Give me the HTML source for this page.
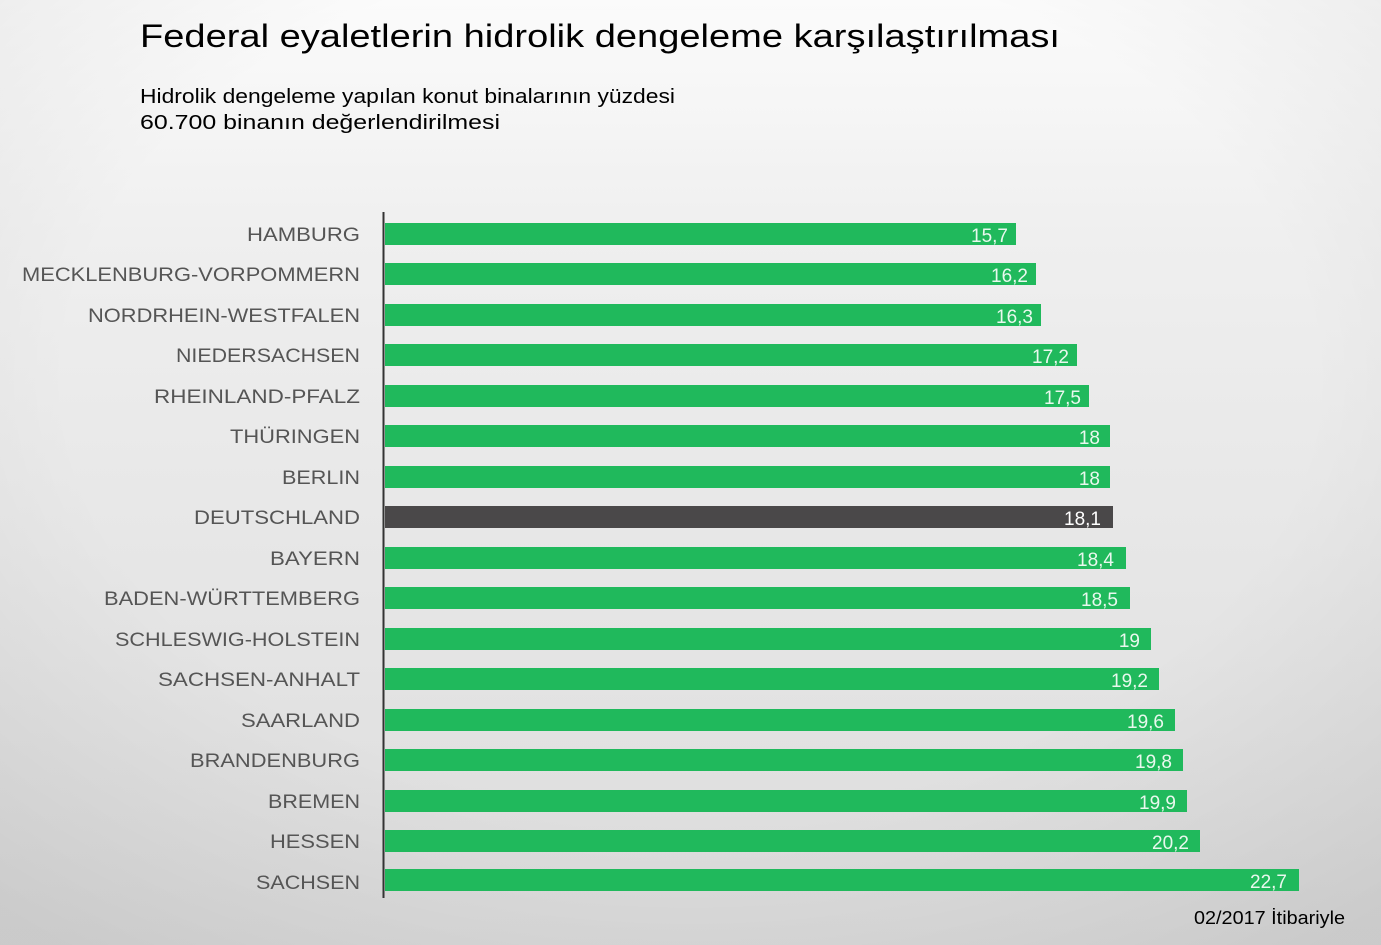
<!DOCTYPE html>
<html><head><meta charset="utf-8"><style>
html,body{margin:0;padding:0;width:1381px;height:945px;overflow:hidden}
</style></head><body>
<svg width="1381" height="945" xmlns="http://www.w3.org/2000/svg" font-family="Liberation Sans, sans-serif">
<defs>
<linearGradient id="bg" x1="0" y1="0" x2="0" y2="1">
<stop offset="0" stop-color="#fbfbfb"/><stop offset="0.25" stop-color="#efefef"/><stop offset="1" stop-color="#dcdcdc"/>
</linearGradient>
<radialGradient id="vg" cx="0.5" cy="0.4" r="0.75">
<stop offset="0.6" stop-color="#000" stop-opacity="0"/><stop offset="1" stop-color="#000" stop-opacity="0.08"/>
</radialGradient>
</defs>
<rect width="1381" height="945" fill="url(#bg)"/>
<rect width="1381" height="945" fill="url(#vg)"/>
<text x="140" y="47" font-size="32" fill="#000" textLength="920" lengthAdjust="spacingAndGlyphs">Federal eyaletlerin hidrolik dengeleme karşılaştırılması</text>
<text x="140" y="103" font-size="20" fill="#000" textLength="535" lengthAdjust="spacingAndGlyphs">Hidrolik dengeleme yapılan konut binalarının yüzdesi</text>
<text x="140" y="129" font-size="20" fill="#000" textLength="360" lengthAdjust="spacingAndGlyphs">60.700 binanın değerlendirilmesi</text>
<line x1="383.5" y1="212" x2="383.5" y2="898" stroke="#333" stroke-width="2"/>
<g font-size="19" fill="#555" text-anchor="end">
<text x="360" y="241" textLength="113" lengthAdjust="spacingAndGlyphs">HAMBURG</text>
<text x="360" y="281" textLength="338" lengthAdjust="spacingAndGlyphs">MECKLENBURG-VORPOMMERN</text>
<text x="360" y="322" textLength="272" lengthAdjust="spacingAndGlyphs">NORDRHEIN-WESTFALEN</text>
<text x="360" y="362" textLength="184" lengthAdjust="spacingAndGlyphs">NIEDERSACHSEN</text>
<text x="360" y="403" textLength="206" lengthAdjust="spacingAndGlyphs">RHEINLAND-PFALZ</text>
<text x="360" y="443" textLength="130" lengthAdjust="spacingAndGlyphs">THÜRINGEN</text>
<text x="360" y="484" textLength="78" lengthAdjust="spacingAndGlyphs">BERLIN</text>
<text x="360" y="524" textLength="166" lengthAdjust="spacingAndGlyphs">DEUTSCHLAND</text>
<text x="360" y="565" textLength="90" lengthAdjust="spacingAndGlyphs">BAYERN</text>
<text x="360" y="605" textLength="256" lengthAdjust="spacingAndGlyphs">BADEN-WÜRTTEMBERG</text>
<text x="360" y="646" textLength="245" lengthAdjust="spacingAndGlyphs">SCHLESWIG-HOLSTEIN</text>
<text x="360" y="686" textLength="202" lengthAdjust="spacingAndGlyphs">SACHSEN-ANHALT</text>
<text x="360" y="727" textLength="119" lengthAdjust="spacingAndGlyphs">SAARLAND</text>
<text x="360" y="767" textLength="170" lengthAdjust="spacingAndGlyphs">BRANDENBURG</text>
<text x="360" y="808" textLength="92" lengthAdjust="spacingAndGlyphs">BREMEN</text>
<text x="360" y="848" textLength="90" lengthAdjust="spacingAndGlyphs">HESSEN</text>
<text x="360" y="889" textLength="104" lengthAdjust="spacingAndGlyphs">SACHSEN</text>
</g>
<g fill="#20b95c">
<rect x="385" y="223" width="631" height="22"/>
<rect x="385" y="263" width="651" height="22"/>
<rect x="385" y="304" width="656" height="22"/>
<rect x="385" y="344" width="692" height="22"/>
<rect x="385" y="385" width="704" height="22"/>
<rect x="385" y="425" width="725" height="22"/>
<rect x="385" y="466" width="725" height="22"/>
<rect x="385" y="506" width="728" height="22" fill="#4a4849"/>
<rect x="385" y="547" width="741" height="22"/>
<rect x="385" y="587" width="745" height="22"/>
<rect x="385" y="628" width="766" height="22"/>
<rect x="385" y="668" width="774" height="22"/>
<rect x="385" y="709" width="790" height="22"/>
<rect x="385" y="749" width="798" height="22"/>
<rect x="385" y="790" width="802" height="22"/>
<rect x="385" y="830" width="815" height="22"/>
<rect x="385" y="869" width="914" height="22"/>
</g>
<g font-size="19" fill="#e9f8ee" text-anchor="end">
<text x="1008" y="242">15,7</text>
<text x="1028" y="282">16,2</text>
<text x="1033" y="323">16,3</text>
<text x="1069" y="363">17,2</text>
<text x="1081" y="404">17,5</text>
<text x="1100" y="444">18</text>
<text x="1100" y="485">18</text>
<text x="1101" y="525" fill="#fff">18,1</text>
<text x="1114" y="566">18,4</text>
<text x="1118" y="606">18,5</text>
<text x="1140" y="647">19</text>
<text x="1148" y="687">19,2</text>
<text x="1164" y="728">19,6</text>
<text x="1172" y="768">19,8</text>
<text x="1176" y="809">19,9</text>
<text x="1189" y="849">20,2</text>
<text x="1287" y="888">22,7</text>
</g>
<text x="1345" y="924" font-size="18" fill="#000" text-anchor="end" textLength="151" lengthAdjust="spacingAndGlyphs">02/2017 İtibariyle</text>
</svg>
</body></html>
